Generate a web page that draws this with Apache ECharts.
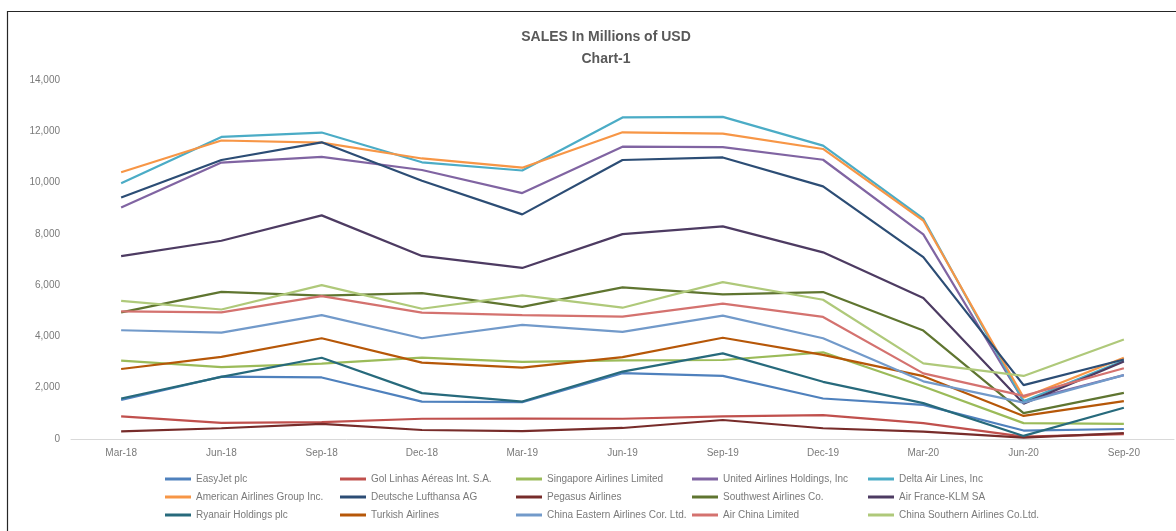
<!DOCTYPE html>
<html>
<head>
<meta charset="utf-8">
<script src="https://cdn.jsdelivr.net/npm/echarts@6/dist/echarts.min.js"></script>
<style>
  html, body { margin: 0; padding: 0; background: #ffffff; }
  #chart { width: 1176px; height: 531px; }
</style>
</head>
<body>
<div id="chart"></div>
<script>
// ---- data (millions of USD) ----
const categories = ['Mar-18','Jun-18','Sep-18','Dec-18','Mar-19','Jun-19','Sep-19','Dec-19','Mar-20','Jun-20','Sep-20'];

const easyJet       = [1520, 2430, 2400, 1460, 1440, 2570, 2460, 1580, 1330, 330, 390];
const gol           = [880, 630, 660, 790, 800, 790, 880, 930, 620, 90, 190];
const singapore     = [3060, 2800, 2940, 3170, 3010, 3070, 3080, 3380, 2050, 620, 590];
const united        = [9030, 10780, 11000, 10490, 9590, 11400, 11380, 10890, 7980, 1480, 2490];
const delta         = [9970, 11780, 11950, 10790, 10470, 12540, 12560, 11440, 8590, 1470, 3060];
const american      = [10400, 11640, 11560, 10940, 10580, 11960, 11910, 11310, 8520, 1620, 3170];
const lufthansa     = [9420, 10880, 11570, 10070, 8760, 10880, 10980, 9850, 7090, 2100, 3100];
const pegasus       = [300, 420, 590, 350, 310, 430, 740, 420, 290, 50, 230];
const southwest     = [4940, 5740, 5590, 5690, 5150, 5910, 5640, 5730, 4230, 1010, 1800];
const airFrance     = [7130, 7730, 8720, 7140, 6670, 7990, 8290, 7280, 5500, 1380, 3020];
const ryanair       = [1580, 2420, 3170, 1790, 1460, 2630, 3340, 2230, 1400, 120, 1220];
const turkish       = [2730, 3200, 3930, 2980, 2780, 3190, 3950, 3280, 2450, 900, 1480];
const chinaEastern  = [4240, 4150, 4830, 3930, 4450, 4180, 4810, 3930, 2250, 1420, 2490];
const airChina      = [4980, 4940, 5570, 4930, 4830, 4770, 5280, 4760, 2560, 1680, 2760];
const chinaSouthern = [5390, 5050, 6000, 5080, 5600, 5120, 6120, 5430, 2950, 2460, 3880];

const seriesNames = [
  'EasyJet plc', 'Gol Linhas Aéreas Int. S.A.', 'Singapore Airlines Limited',
  'United Airlines Holdings, Inc', 'Delta Air Lines, Inc', 'American Airlines Group Inc.',
  'Deutsche Lufthansa AG', 'Pegasus Airlines', 'Southwest Airlines Co.',
  'Air France-KLM SA', 'Ryanair Holdings plc', 'Turkish Airlines',
  'China Eastern Airlines Cor. Ltd.', 'Air China Limited', 'China Southern Airlines Co.Ltd.'
];
const seriesValues = [easyJet, gol, singapore, united, delta, american, lufthansa, pegasus,
  southwest, airFrance, ryanair, turkish, chinaEastern, airChina, chinaSouthern];
const seriesColors = ['#4F81BD', '#C0504D', '#9BBB59', '#8064A2', '#4BACC6', '#F79646',
  '#2C4D75', '#772C2A', '#5F7530', '#4D3B62', '#276A7C', '#B65708', '#729ACA', '#D4726F', '#AFC97A'];

const yTicks = { min: 0, max: 14000, interval: 2000 };

// ---- chart ----
const chart = echarts.init(document.getElementById('chart'), null, { renderer: 'canvas' });

const font = '"Liberation Sans", Arial, sans-serif';
const legendCols = [165, 340, 516, 692, 868];
const legends = legendCols.map((x, c) => ({
  orient: 'vertical',
  left: x,
  top: 473,
  padding: 0,
  itemWidth: 26,
  itemHeight: 3,
  itemGap: 6,
  icon: 'rect',
  selectedMode: false,
  textStyle: { fontFamily: font, fontSize: 10, color: '#7a7a7a', lineHeight: 12 },
  data: [seriesNames[c], seriesNames[c + 5], seriesNames[c + 10]]
}));

chart.setOption({
  backgroundColor: '#ffffff',
  animation: false,
  title: {
    text: 'SALES In Millions of USD\nChart-1',
    left: 601,
    textAlign: 'center',
    top: 21,
    textStyle: { fontFamily: font, fontSize: 14, fontWeight: 'bold', color: '#595959', lineHeight: 22 }
  },
  graphic: [{
    type: 'rect',
    shape: { x: 7.5, y: 11.5, width: 1300, height: 700 },
    style: { fill: 'none', stroke: '#262626', lineWidth: 1.2 },
    silent: true
  }],
  legend: legends,
  grid: { left: 71, right: 2, top: 80, bottom: 92, containLabel: false },
  xAxis: {
    type: 'category',
    data: categories,
    boundaryGap: true,
    axisLine: { lineStyle: { color: '#d9d9d9', width: 1 } },
    axisTick: { show: false },
    axisLabel: { fontFamily: font, fontSize: 10, color: '#7a7a7a', margin: 9 }
  },
  yAxis: {
    type: 'value',
    min: yTicks.min,
    max: yTicks.max,
    interval: yTicks.interval,
    axisLine: { show: false },
    axisTick: { show: false },
    splitLine: { show: false },
    axisLabel: {
      fontFamily: font, fontSize: 10, color: '#7a7a7a', margin: 11,
      formatter: v => v.toLocaleString('en-US')
    }
  },
  series: seriesNames.map((name, i) => ({
    name,
    type: 'line',
    data: seriesValues[i],
    symbol: 'none',
    color: seriesColors[i],
    lineStyle: { width: 2.2, color: seriesColors[i] },
    z: 2 + i
  }))
});
</script>
</body>
</html>
